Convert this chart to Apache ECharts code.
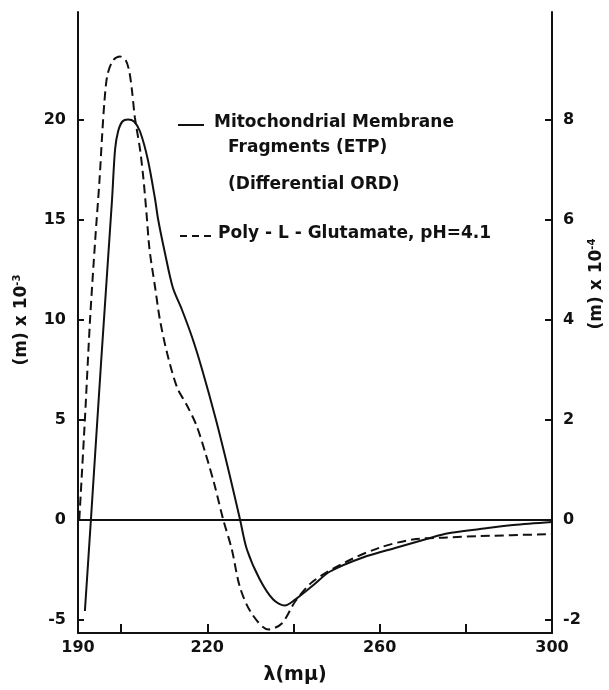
<!DOCTYPE html>
<html><head><meta charset="utf-8">
<script src="https://cdn.jsdelivr.net/npm/echarts@6/dist/echarts.min.js"></script>
<style>html,body{margin:0;padding:0;background:#fff}#c{width:609px;height:690px}</style>
</head><body><div id="c"></div>
<script>
// Mitochondrial membrane fragments (ETP), differential ORD — right axis, (m) x 10^-4
const etpWavelength = [191.6, 193.0, 195.4, 197.9, 198.6, 199.3, 200.3, 201.6, 203.0, 204.4, 206.2, 207.9, 208.6, 210.2, 212.0, 214.1, 216.5, 218.8, 222.0, 225.0, 227.6, 229.2, 232.2, 235.3, 238.0, 240.4, 244.5, 248.5, 256.1, 264.0, 271.7, 275.6, 283.3, 291.0, 300.0];
const etpValues = [-1.83, 0, 3.2, 6.4, 7.4, 7.76, 7.96, 8.0, 7.96, 7.76, 7.2, 6.4, 6.0, 5.32, 4.64, 4.2, 3.64, 3.0, 2.0, 0.96, 0, -0.6, -1.2, -1.6, -1.72, -1.6, -1.32, -1.04, -0.76, -0.56, -0.37, -0.28, -0.19, -0.11, -0.05];
// Poly-L-glutamate, pH 4.1 — left axis, (m) x 10^-3
const pglWavelength = [190.3, 191.6, 192.8, 194.0, 195.0, 195.6, 196.1, 196.8, 198.1, 199.75, 201.1, 201.9, 202.5, 203.2, 204.4, 205.2, 205.9, 206.6, 207.9, 209.0, 210.7, 213.0, 215.3, 217.5, 219.6, 221.6, 223.7, 225.7, 227.6, 230.3, 234.2, 237.3, 240.4, 244.5, 252.4, 260.1, 267.7, 275.6, 283.3, 300.0];
const pglValues = [0, 5, 10, 14, 17, 19.2, 20.8, 22.2, 22.95, 23.15, 22.95, 22.4, 21.5, 20.1, 18.5, 17, 15.3, 13.5, 11.6, 10, 8.3, 6.6, 5.7, 4.7, 3.3, 1.8, 0, -1.5, -3.4, -4.7, -5.5, -5.2, -4.1, -3.1, -2.1, -1.4, -1.0, -0.9, -0.83, -0.73];
const xTickLabels = [190, 220, 260, 300];
const xTickMarks = [200, 220, 240, 260, 280];
const leftTicks = [-5, 0, 5, 10, 15, 20];
const rightTicks = [-2, 0, 2, 4, 6, 8];

const INK = '#111';
const FONT = 'DejaVu Sans';
const pair = (xs, ys) => xs.map((x, i) => [x, ys[i]]);

const chart = echarts.init(document.getElementById('c'), null, {renderer: 'canvas'});
const lblStyle = {color: INK, fontFamily: FONT, fontWeight: 'bold', fontSize: 16};
const txt = (text, x, y, extra) => Object.assign({
  type: 'text', x: x, y: y, silent: true,
  style: {text: text, fill: INK, font: 'bold 17px "DejaVu Sans"', textAlign: 'left', textVerticalAlign: 'middle'}
}, extra || {});

chart.setOption({
  animation: false,
  backgroundColor: '#fff',
  grid: {left: 78, right: 57, top: 12, bottom: 57, containLabel: false},
  xAxis: {
    type: 'value', min: 190, max: 300,
    axisLine: {show: true, onZero: false, lineStyle: {color: INK, width: 2}},
    axisTick: {show: true, inside: true, length: 9, customValues: xTickMarks, lineStyle: {color: INK, width: 2}},
    axisLabel: Object.assign({customValues: xTickLabels, margin: 7}, lblStyle),
    splitLine: {show: false}
  },
  yAxis: [{
    type: 'value', position: 'left', min: -5.675, max: 25.375,
    axisLine: {show: true, onZero: false, lineStyle: {color: INK, width: 2}},
    axisTick: {show: true, inside: true, length: 6, customValues: leftTicks, lineStyle: {color: INK, width: 2}},
    axisLabel: Object.assign({customValues: leftTicks, margin: 12}, lblStyle),
    splitLine: {show: false}
  }, {
    type: 'value', position: 'right', min: -2.27, max: 10.15,
    axisLine: {show: true, onZero: false, lineStyle: {color: INK, width: 2}},
    axisTick: {show: true, inside: true, length: 7, customValues: rightTicks, lineStyle: {color: INK, width: 2}},
    axisLabel: Object.assign({customValues: rightTicks, margin: 11}, lblStyle),
    splitLine: {show: false}
  }],
  series: [{
    name: 'Poly-L-Glutamate, pH=4.1', type: 'line', yAxisIndex: 0,
    data: pair(pglWavelength, pglValues),
    showSymbol: false, smooth: 0.3,
    lineStyle: {color: INK, width: 2, type: [9, 5]},
    markLine: {
      silent: true, symbol: ['none', 'none'], label: {show: false},
      lineStyle: {type: 'solid', color: INK, width: 2},
      data: [{yAxis: 0}]
    }
  }, {
    name: 'Mitochondrial Membrane Fragments (ETP)', type: 'line', yAxisIndex: 1,
    data: pair(etpWavelength, etpValues),
    showSymbol: false, smooth: 0.3,
    lineStyle: {color: INK, width: 2, type: 'solid'}
  }],
  graphic: [
    {type: 'line', silent: true, shape: {x1: 178, y1: 125, x2: 204, y2: 125}, style: {stroke: INK, lineWidth: 2}},
    txt('Mitochondrial Membrane', 214, 123),
    txt('Fragments (ETP)', 228, 148),
    txt('(Differential ORD)', 228, 185),
    {type: 'line', silent: true, shape: {x1: 180, y1: 236, x2: 216, y2: 236}, style: {stroke: INK, lineWidth: 2, lineDash: [7, 5]}},
    txt('Poly - L - Glutamate, pH=4.1', 218, 234),
    {type: 'text', x: 22, y: 320, rotation: Math.PI / 2, silent: true,
     style: {text: '(m) x 10{sup|-3}', fill: INK, font: 'bold 17px "DejaVu Sans"', textAlign: 'center', textVerticalAlign: 'middle',
             rich: {sup: {fontSize: 10, fontWeight: 'bold', fontFamily: FONT, fill: INK, padding: [0, 0, 10, 0]}}}},
    {type: 'text', x: 597, y: 284, rotation: Math.PI / 2, silent: true,
     style: {text: '(m) x 10{sup|-4}', fill: INK, font: 'bold 17px "DejaVu Sans"', textAlign: 'center', textVerticalAlign: 'middle',
             rich: {sup: {fontSize: 10, fontWeight: 'bold', fontFamily: FONT, fill: INK, padding: [0, 0, 10, 0]}}}},
    txt('λ(mμ)', 295, 675, {style: {text: 'λ(mμ)', fill: INK, font: 'bold 19px "DejaVu Sans"', textAlign: 'center', textVerticalAlign: 'middle'}})
  ]
});
</script>
</body></html>
